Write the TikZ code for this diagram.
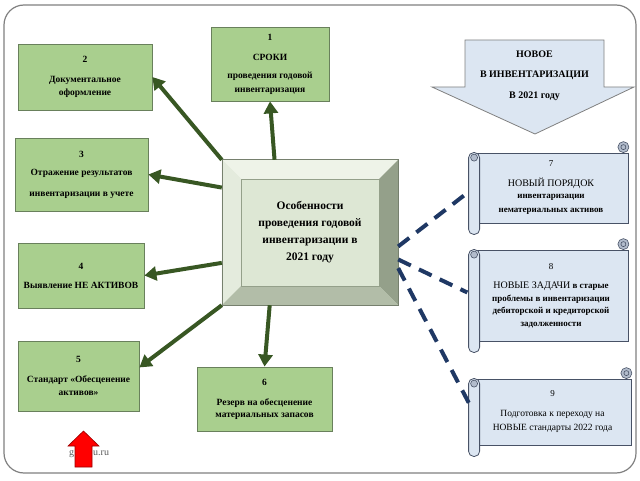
\documentclass[tikz,border=0pt]{standalone}
\usepackage{fontspec}
\setmainfont{Liberation Serif}
\usepackage{tikz}
\usetikzlibrary{arrows.meta, calc}

\definecolor{boxgreen}{RGB}{169,207,142}
\definecolor{boxedge}{RGB}{105,128,92}
\definecolor{arrowgreen}{RGB}{56,87,35}
\definecolor{navy}{RGB}{31,56,100}
\definecolor{bevface}{RGB}{221,231,212}
\definecolor{beveltop}{RGB}{238,243,232}
\definecolor{bevleft}{RGB}{228,235,221}
\definecolor{bevright}{RGB}{148,160,138}
\definecolor{bevbottom}{RGB}{178,189,168}
\definecolor{scrollfill}{RGB}{220,230,242}
\definecolor{scrolledge}{RGB}{72,82,102}
\definecolor{curlfill}{RGB}{178,188,204}

\begin{document}
\begin{tikzpicture}[x=1pt, y=1pt,
		greenbox/.style={draw=boxedge, fill=boxgreen, line width=0.8pt, align=center, inner sep=0pt,
			font=\fontsize{9.5}{13}\selectfont\bfseries},
		scrollbox/.style={draw=scrolledge, fill=scrollfill, line width=0.8pt, align=center, inner sep=0pt,
			minimum width=154pt, font=\fontsize{9}{13}\selectfont}]
		
		\useasboundingbox (0,0) rectangle (640,480);
		\draw[gray, line width=1.2pt, rounded corners=20pt] (4,7) rectangle (636,475); % ?????
		
		% ??????????? ????
		\node[draw=bevright, fill=bevface, minimum width=176pt, minimum height=145pt, align=center,
			font=\fontsize{11.5}{17}\selectfont\bfseries] (main) at (310,247.5)
			{Особенности\\проведения годовой\\инвентаризации в\\2021 году};
		\fill[beveltop] (main.north west) -- (main.north east) -- ($(main.north east)+(-19,-19)$) -- ($(main.north west)+(19,-19)$) -- cycle;
		\fill[bevleft] (main.north west) -- ($(main.north west)+(19,-19)$) -- ($(main.south west)+(19,19)$) -- (main.south west) -- cycle;
		\fill[bevright] (main.north east) -- ($(main.north east)+(-19,-19)$) -- ($(main.south east)+(-19,19)$) -- (main.south east) -- cycle;
		\fill[bevbottom] (main.south west) -- ($(main.south west)+(19,19)$) -- ($(main.south east)+(-19,19)$) -- (main.south east) -- cycle;
		\draw[bevright!80!black, line width=0.6pt] (main.north west) rectangle (main.south east);
		\draw[bevright, line width=0.5pt] ($(main.north west)+(19,-19)$) rectangle ($(main.south east)+(-19,19)$);
		
		% ??????? ?????
		\node[greenbox, minimum width=118pt, minimum height=74pt] (b1) at (270,416)
			{1\\[7pt]СРОКИ\\[5pt]проведения годовой\\[1pt]инвентаризация};
		\node[greenbox, minimum width=134pt, minimum height=66pt] (b2) at (85,403)
			{2\\[7pt]Документальное\\оформление};
		\node[greenbox, minimum width=133pt, minimum height=73pt] (b3) at (81.5,305.5)
			{3\\[5pt]Отражение результатов\\[8pt]инвентаризации в учете};
		\node[greenbox, minimum width=126pt, minimum height=65pt] (b4) at (81,204.5)
			{4\\[6pt]Выявление НЕ АКТИВОВ};
		\node[greenbox, minimum width=121pt, minimum height=70pt] (b5) at (78.5,104)
			{5\\[7pt]Стандарт «Обесценение\\активов»};
		\node[greenbox, minimum width=135pt, minimum height=64pt] (b6) at (264.5,81)
			{6\\[7pt]Резерв на обесценение\\[-1pt]материальных запасов};
		
		% ??????? ?? ??????
		\begin{scope}[arrowgreen, line width=4pt, -{Triangle[length=12pt, width=14pt]}]
			\draw (main.116) -- (b1.south);
			\draw (main.north west) -- (b2.east);
			\draw (main.153) -- (b3.east);
			\draw (main.199) -- (b4.east);
			\draw (main.south west) -- (b5.8);
			\draw (main.241) -- (b6.north);
		\end{scope}
		
		% ??????? ?????
		\draw[draw=gray, fill=scrollfill, line width=0.8pt] (465,440) -- (604,440) -- (604,393) -- (634,393)
			-- (535,346) -- (432,393) -- (465,393) -- cycle;
		\node[align=center, font=\fontsize{10}{13}\selectfont\bfseries] (novoe) at (534.5,404)
			{НОВОЕ\\[7pt]В ИНВЕНТАРИЗАЦИИ\\[8pt]В 2021 году};
		
		% ??????
		\node[scrollbox, minimum height=70pt] (s7) at (551,292)
			{7\\[7pt]{\fontsize{10}{13}\selectfont НОВЫЙ ПОРЯДОК}\\[-1pt]{\bfseries инвентаризации}\\[1pt]{\bfseries нематериальных активов}};
		\node[scrollbox, minimum height=91pt] (s8) at (551,184.5)
			{8\\[6pt]{\fontsize{10}{13}\selectfont НОВЫЕ ЗАДАЧИ} {\bfseries в старые}\\{\bfseries проблемы в инвентаризации}\\[-1pt]{\bfseries дебиторской и кредиторской}\\{\bfseries задолженности}};
		\node[scrollbox, minimum height=66pt, minimum width=157pt] (s9) at (552.5,68)
			{9\\[7pt]{\fontsize{9.5}{13}\selectfont Подготовка к переходу на}\\[1pt]{\fontsize{9.5}{13}\selectfont НОВЫЕ стандарты 2022 года}};
		\foreach \s in {s7,s8,s9} {
			\draw[scrolledge, fill=scrollfill, line width=0.8pt, rounded corners=5pt]
				($(\s.north west)+(-5,0)$) rectangle ($(\s.south west)+(6,-11)$);
			\draw[scrolledge, fill=curlfill, line width=0.6pt] ($(\s.north west)+(0.5,-5)$) circle (3.5);
			\draw[scrolledge, fill=curlfill, line width=0.6pt] ($(\s.north east)+(-5,5.5)$) circle (5.5);
			\draw[scrolledge, line width=0.6pt] ($(\s.north east)+(-5,5.5)$) circle (2.5);
		}
		
		% ????????? ?????
		\begin{scope}[navy, line width=4pt, dash pattern=on 14pt off 9pt, shorten >=7pt]
			\draw (main.-9) -- (s7.west);
			\draw (main.-17) -- (s8.west);
			\draw (main.-22) -- (s9.west);
		\end{scope}
		
		% ??????
		\node[anchor=base west, text=gray!70!black, font=\fontsize{10}{11}\selectfont, inner sep=0pt] (mark) at (69,25) {g\hspace{19pt}u.ru};
		\draw[draw=red!60!black, fill=red, line width=0.6pt] (75,13) -- (75,34) -- (68,34) -- (83.5,49) -- (99,34) -- (92,34) -- (92,13) -- cycle;
		
	\end{tikzpicture}
\end{document}
